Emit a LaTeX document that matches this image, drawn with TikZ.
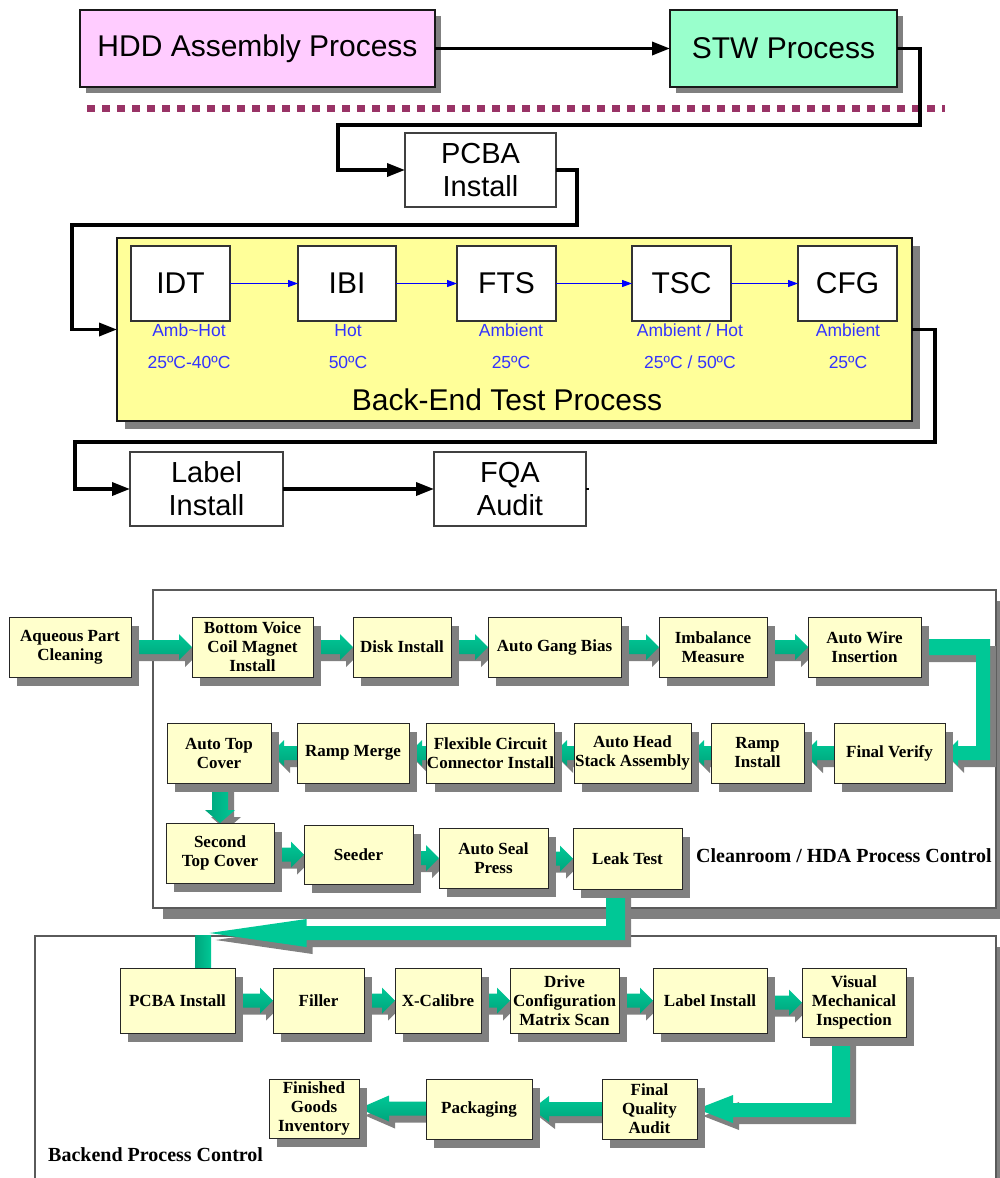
\documentclass[tikz,border=0pt]{standalone}
\usepackage{fontspec}
\setmainfont{Liberation Sans}
\newfontfamily\tnr{Liberation Serif}
\usetikzlibrary{arrows.meta,shadows,calc}

\definecolor{hddpink}{HTML}{FFCCFF}
\definecolor{stwmint}{HTML}{99FFCC}
\definecolor{testyellow}{HTML}{FFFF99}
\definecolor{creamy}{HTML}{FFFFCC}
\definecolor{labelblue}{HTML}{3333FF}
\definecolor{arrowblue}{HTML}{0000FF}
\definecolor{sepmaroon}{HTML}{993366}
\definecolor{shadowgray}{HTML}{808080}
\definecolor{gmain}{HTML}{00C896}
\definecolor{gdark}{HTML}{00A57C}
\definecolor{glight}{HTML}{00D6A0}
\definecolor{panelline}{HTML}{5A5A5A}

\pgfdeclarelayer{panels}
\pgfdeclarelayer{pipes}
\pgfsetlayers{panels,pipes,main}

% rightward block arrow from #2.east to #3.west (#1 = head length)
\newcommand\pipeR[3][13pt]{%
  \foreach \sty in {pipeshadow,hpipe}{%
    \path[\sty] let \p1=(#2.east), \p2=(#3.west) in
      (\x1,\y2+7pt) -- (\x2-#1,\y2+7pt) -- (\x2-#1,\y2+13pt) -- (\x2,\y2)
      -- (\x2-#1,\y2-13pt) -- (\x2-#1,\y2-7pt) -- (\x1,\y2-7pt) -- cycle;}}
% leftward block arrow from #2.west to #3.east
\newcommand\pipeL[3][13pt]{%
  \foreach \sty in {pipeshadow,hpipe}{%
    \path[\sty] let \p1=(#2.west), \p2=(#3.east) in
      (\x1,\y2+7pt) -- (\x2+#1,\y2+7pt) -- (\x2+#1,\y2+13pt) -- (\x2,\y2)
      -- (\x2+#1,\y2-13pt) -- (\x2+#1,\y2-7pt) -- (\x1,\y2-7pt) -- cycle;}}

\begin{document}
\begin{tikzpicture}[x=1pt,y=-1pt,
  procbox/.style={draw, inner sep=0pt, outer sep=0pt, align=center},
  topbox/.style={procbox, line width=1.3pt, draw=black!90,
    font=\fontsize{30}{33}\selectfont},
  tshadow/.style={general shadow={fill=shadowgray, shadow xshift=#1pt, shadow yshift=-#1pt}},
  whitebox/.style={procbox, fill=white, draw=black!80, line width=1.3pt,
    font=\fontsize{30}{33}\selectfont},
  midbox/.style={procbox, fill=white, draw=black!75, line width=1.2pt,
    font=\fontsize{29}{33}\selectfont},
  tlab/.style={anchor=base, inner sep=0pt, text=labelblue,
    font=\fontsize{17.5}{20}\selectfont},
  flowline/.style={line width=3.5pt, -{Triangle[length=18pt,width=13pt]}},
  blueflow/.style={arrowblue, line width=1.2pt, -{Triangle[length=10pt,width=7pt]}},
  sepline/.style={sepmaroon, line width=7pt, dash pattern=on 8pt off 7pt},
  stepbox/.style={procbox, fill=creamy, draw=black!85, line width=1pt,
    font=\tnr\bfseries\fontsize{17}{19}\selectfont,
    general shadow={fill=shadowgray, shadow xshift=8pt, shadow yshift=-9pt}},
  panelbox/.style={procbox, fill=white, draw=panelline, line width=1.2pt,
    general shadow={fill=shadowgray, shadow xshift=10pt, shadow yshift=-11pt}},
  paneltitle/.style={anchor=base west, inner sep=0pt,
    font=\tnr\bfseries\fontsize{20}{24}\selectfont},
  pipeshadow/.style={fill=shadowgray, transform canvas={shift={(6pt,-7pt)}}},
  hpipe/.style={shade, top color=gmain, middle color=glight, bottom color=gdark},
  vpipe/.style={shade, left color=gdark, middle color=glight, right color=gmain},
  bpipe/.style={fill=gmain}
]
\useasboundingbox (0,0) rectangle (1000,1178);

% ---------------- upper flow ----------------
\node[topbox, fill=hddpink, tshadow=6, minimum width=355, minimum height=77]
  (hdd) at (257.5,48.5) {HDD Assembly Process};
\node[topbox, fill=stwmint, tshadow=6, minimum width=227, minimum height=77]
  (stw) at (783.5,48.5) {STW Process};

\coordinate (sepL) at (87,108);
\coordinate (sepR) at (945,108);
\draw[sepline] (sepL) -- (sepR);

\node[midbox, minimum width=151, minimum height=74] (pcba) at (480.5,170) {PCBA\\Install};

\node[topbox, fill=testyellow, tshadow=8, line width=1.5pt, minimum width=795, minimum height=183]
  (bet) at (514.5,329.5) {};
\node[whitebox, minimum width=99, minimum height=75] (idt) at (180.5,283.5) {IDT};
\node[whitebox, minimum width=98, minimum height=75] (ibi) at (347,283.5) {IBI};
\node[whitebox, minimum width=99, minimum height=75] (fts) at (506.5,283.5) {FTS};
\node[whitebox, minimum width=99, minimum height=75] (tsc) at (681.5,283.5) {TSC};
\node[whitebox, minimum width=99, minimum height=75] (cfg) at (847.5,283.5) {CFG};

\node[tlab] (idtA) at (189,336) {Amb\textasciitilde Hot};
\node[tlab] (idtB) at (189,368) {25ºC-40ºC};
\node[tlab] (ibiA) at (348,336) {Hot};
\node[tlab] (ibiB) at (348,368) {50ºC};
\node[tlab] (ftsA) at (511,336) {Ambient};
\node[tlab] (ftsB) at (511,368) {25ºC};
\node[tlab] (tscA) at (690,336) {Ambient / Hot};
\node[tlab] (tscB) at (690,368) {25ºC / 50ºC};
\node[tlab] (cfgA) at (848,336) {Ambient};
\node[tlab] (cfgB) at (848,368) {25ºC};
\node[anchor=base, inner sep=0pt, font=\fontsize{30}{33}\selectfont]
  (betlabel) at (507,410) {Back-End Test Process};

\node[midbox, minimum width=153, minimum height=74] (lbl) at (206.5,489) {Label\\Install};
\node[midbox, minimum width=152, minimum height=74] (fqa) at (510,489) {FQA\\Audit};

\draw[flowline] (hdd) -- (stw);
\draw[flowline] (stw.east) -- ++(23,0) -- ++(0,76.5) -| ([xshift=-67pt]pcba.west) -- (pcba.west);
\draw[flowline] (pcba.east) -- ++(21,0) -- ++(0,55) -| ([xshift=-45pt]bet.west) -- (bet.west);
\draw[flowline] (bet.east) -- ++(23,0) -- ++(0,112.5) -| ([xshift=-55pt]lbl.west) -- (lbl.west);
\draw[flowline] (lbl) -- (fqa);
\draw[line width=1.5pt] (fqa.east) -- ++(3,0);

\draw[blueflow] (idt) -- (ibi);
\draw[blueflow] (ibi) -- (fts);
\draw[blueflow] (fts) -- (tsc);
\draw[blueflow] (tsc) -- (cfg);

% ---------------- lower flow: panels ----------------
\begin{pgfonlayer}{panels}
\node[panelbox, minimum width=843, minimum height=318] (clean) at (574.5,749) {};
\node[panelbox, minimum width=961, minimum height=264] (backend) at (515.5,1068) {};
\end{pgfonlayer}
\node[paneltitle] (cleantitle) at (696,862) {Cleanroom / HDA Process Control};
\node[paneltitle] (backtitle) at (48,1161) {Backend Process Control};

% cleanroom steps
\node[stepbox, minimum width=122, minimum height=60] (aqu) at (70,647) {Aqueous Part\\Cleaning};
\node[stepbox, minimum width=121, minimum height=60] (bvc) at (252.5,647) {Bottom Voice\\Coil Magnet\\Install};
\node[stepbox, minimum width=98, minimum height=60] (dsk) at (402,647) {Disk Install};
\node[stepbox, minimum width=133, minimum height=60] (agb) at (554.5,647) {Auto Gang Bias};
\node[stepbox, minimum width=108, minimum height=60] (imb) at (713,647) {Imbalance\\Measure};
\node[stepbox, minimum width=113, minimum height=60] (awi) at (864.5,647) {Auto Wire\\Insertion};

\node[stepbox, minimum width=111, minimum height=60] (fv) at (889.5,753) {Final Verify};
\node[stepbox, minimum width=93, minimum height=60] (ri) at (757.5,753) {Ramp\\Install};
\node[stepbox, minimum width=117, minimum height=60] (ahs) at (632.5,753) {Auto Head\\Stack Assembly};
\node[stepbox, minimum width=125, minimum height=60] (fcc) at (490.5,753) {Flexible Circuit\\Connector Install};
\node[stepbox, minimum width=112, minimum height=60] (rm) at (353,753) {Ramp Merge};
\node[stepbox, minimum width=104, minimum height=60] (atc) at (219,753) {Auto Top\\Cover};

\node[stepbox, minimum width=108, minimum height=60] (stc) at (220,853) {Second\\Top Cover};
\node[stepbox, minimum width=109, minimum height=59] (sdr) at (358.5,854.5) {Seeder};
\node[stepbox, minimum width=109, minimum height=60] (asp) at (493.5,858) {Auto Seal\\Press};
\node[stepbox, minimum width=109, minimum height=61] (lt) at (627.5,858.5) {Leak Test};

% backend steps
\node[stepbox, minimum width=115, minimum height=65] (pci) at (177.5,1000.5) {PCBA Install};
\node[stepbox, minimum width=91, minimum height=65] (fil) at (318.5,1000.5) {Filler};
\node[stepbox, minimum width=86, minimum height=65] (xcal) at (438,1000.5) {X-Calibre};
\node[stepbox, minimum width=109, minimum height=65] (dcm) at (564.5,1000.5) {Drive\\Configuration\\Matrix Scan};
\node[stepbox, minimum width=114, minimum height=65] (lin) at (710,1000.5) {Label Install};
\node[stepbox, minimum width=104, minimum height=69] (vmi) at (854,1002.5) {Visual\\Mechanical\\Inspection};
\node[stepbox, minimum width=95, minimum height=60] (fqa2) at (649.5,1109) {Final\\Quality\\Audit};
\node[stepbox, minimum width=106, minimum height=60] (pkg) at (479,1109) {Packaging};
\node[stepbox, minimum width=90, minimum height=59] (fgi) at (314,1108.5) {Finished\\Goods\\Inventory};

\coordinate (ltdrop) at ([xshift=-12pt]lt.south);
\coordinate (pcitip) at ([shift={(32,-35)}]pci.north);
\coordinate (vmidrop) at ([xshift=-13pt]vmi.south);

% ---------------- lower flow: block arrows ----------------
\begin{pgfonlayer}{pipes}
\pipeR{aqu}{bvc}
\pipeR{bvc}{dsk}
\pipeR{dsk}{agb}
\pipeR{agb}{imb}
\pipeR{imb}{awi}
\foreach \sty in {pipeshadow,bpipe}{%
  \path[\sty] let \p1=(awi.east), \p2=(fv.east) in
    (\x1,\y1+8pt) -- (\x2+45pt,\y1+8pt) -- (\x2+45pt,\y2-7pt) -- (\x2+13pt,\y2-7pt)
    -- (\x2+13pt,\y2-13pt) -- (\x2,\y2) -- (\x2+13pt,\y2+13pt) -- (\x2+13pt,\y2+7pt)
    -- (\x2+31pt,\y2+7pt) -- (\x2+31pt,\y1-8pt) -- (\x1,\y1-8pt) -- cycle;}
\pipeL{fv}{ri}
\pipeL{ri}{ahs}
\pipeL{ahs}{fcc}
\pipeL{fcc}{rm}
\pipeL{rm}{atc}
\foreach \sty in {pipeshadow,vpipe}{%
  \path[\sty] let \p1=(atc.south), \p2=(stc.north) in
    (\x2-8pt,\y1) -- (\x2+8pt,\y1) -- (\x2+8pt,\y2+13pt) -- (\x2+15pt,\y2+13pt)
    -- (\x2,\y2) -- (\x2-15pt,\y2+13pt) -- (\x2-8pt,\y2+13pt) -- cycle;}
\pipeR{stc}{sdr}
\pipeR{sdr}{asp}
\pipeR{asp}{lt}
\foreach \sty in {pipeshadow,bpipe}{%
  \path[\sty] let \p1=(ltdrop), \p2=(pcitip) in
    (\x1-9.5pt,\y1) -- (\x1+9.5pt,\y1) -- (\x1+9.5pt,\y2-7pt) -- (\x2+97pt,\y2-7pt)
    -- (\x2+97pt,\y2-14pt) -- (\x2,\y2) -- (\x2+97pt,\y2+14pt) -- (\x2+97pt,\y2+7pt)
    -- (\x1-9.5pt,\y2+7pt) -- cycle;}
\path[vpipe] ([shift={(17.5,-33)}]pci.north) rectangle ([shift={(33.5,0)}]pci.north);
\pipeR{pci}{fil}
\pipeR{fil}{xcal}
\pipeR{xcal}{dcm}
\pipeR{dcm}{lin}
\pipeR{lin}{vmi}
\foreach \sty in {pipeshadow,bpipe}{%
  \path[\sty] let \p1=(vmidrop), \p2=(fqa2.east) in
    (\x1-9pt,\y1) -- (\x1+9pt,\y1) -- (\x1+9pt,\y2-8pt) -- (\x2+36pt,\y2-8pt)
    -- (\x2+36pt,\y2-14pt) -- (\x2,\y2) -- (\x2+36pt,\y2+14pt) -- (\x2+36pt,\y2+6pt)
    -- (\x1-9pt,\y2+6pt) -- cycle;}
\pipeL[17pt]{fqa2}{pkg}
\pipeL[30pt]{pkg}{fgi}
\end{pgfonlayer}
\end{tikzpicture}
\end{document}
